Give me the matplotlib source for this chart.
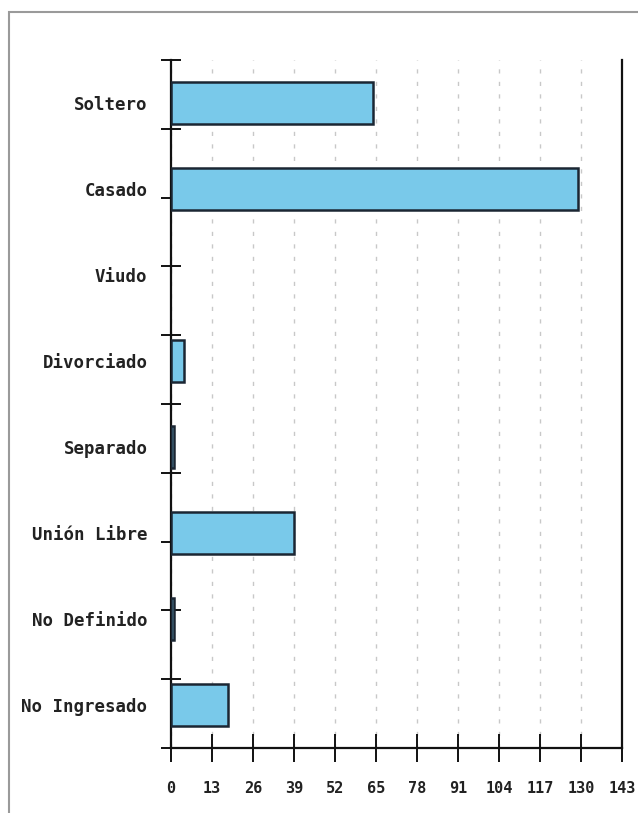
import matplotlib
matplotlib.use("Agg")
import matplotlib.pyplot as plt
from matplotlib.patches import Rectangle
import numpy as np

categories = ["Soltero", "Casado", "Viudo", "Divorciado", "Separado",
              "Unión Libre", "No Definido", "No Ingresado"]
values = [64, 129, 0, 4, 1, 39, 1, 18]
xticks = [0, 13, 26, 39, 52, 65, 78, 91, 104, 117, 130, 143]

W, H = 638, 813
fig = plt.figure(figsize=(W / 100, H / 100), dpi=100)
fig.patch.set_facecolor("white")

# outer frame (gray border on left and top)
fig.add_artist(Rectangle((9 / W, -0.05), 1.2, 1 - 12 / H + 0.05,
                         transform=fig.transFigure, fill=False,
                         edgecolor="#9a9a9a", linewidth=1.5))

ax = fig.add_axes([171 / W, 1 - 748 / H, (622 - 171) / W, (748 - 60) / H])

font = "DejaVu Sans Mono"
y = np.arange(len(categories))
lws = [1.8 if v > 0 else 0 for v in values]
ax.barh(y, values, height=0.49, color="#79C9EA", edgecolor="#1b2633",
        linewidth=lws, zorder=3)

ax.set_xlim(0, 143)
ax.set_ylim(len(categories) - 0.5, -0.5)

ax.set_xticks(xticks)
ax.set_xticklabels([str(t) for t in xticks], fontfamily=font, fontsize=11,
                   fontweight="bold")
ax.tick_params(axis="x", direction="inout", length=20, width=1.4,
               color="#111111", pad=14, labelcolor="#222222")

# category labels (no tick marks)
ax.set_yticks(y)
ax.set_yticklabels(categories, fontfamily=font, fontsize=12.5,
                   fontweight="bold", color="#222222")
ax.tick_params(axis="y", which="major", length=0, pad=17)
# evenly spaced tick marks along the left axis
minor_pos = np.linspace(-0.5, len(categories) - 0.5, 11)
ax.set_yticks(minor_pos, minor=True)
ax.tick_params(axis="y", which="minor", direction="inout", length=14,
               width=1.4, color="#111111")

ax.grid(axis="x", linestyle=(0, (3, 6)), color="#c8c8c8", linewidth=1.0,
        zorder=0)
ax.set_axisbelow(True)

for s in ["left", "bottom", "right"]:
    ax.spines[s].set_linewidth(1.6)
    ax.spines[s].set_color("#111111")
ax.spines["top"].set_visible(False)

fig.savefig("out.png", dpi=100, facecolor="white")
